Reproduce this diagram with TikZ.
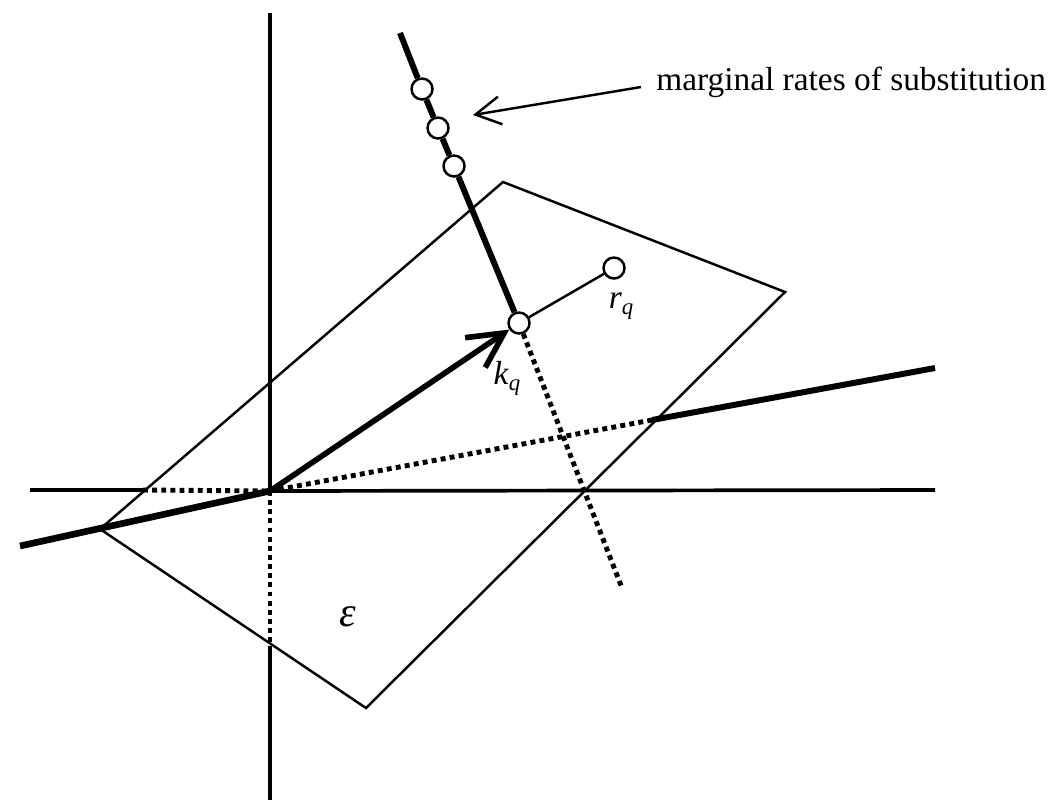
\documentclass[tikz,border=0pt]{standalone}
\usepackage{fontspec}
\setmainfont{Liberation Serif}
\usetikzlibrary{arrows.meta}
\begin{document}
\begin{tikzpicture}[x=0.02cm,y=-0.02cm,
  axis/.style={line width=2.1pt},
  edge/.style={line width=1.4pt, line join=miter},
  heavy/.style={line width=3.4pt},
  dots/.style={line width=2.8pt, dash pattern=on 2.8pt off 2.4pt},
  dot/.style={circle, draw, fill=white, line width=1.4pt, inner sep=0pt, minimum size=0.42cm},
  lbl/.style={inner sep=0pt, font=\fontsize{19}{22}\selectfont}
]
\useasboundingbox (0,0) rectangle (1053,805);
% key points
\coordinate (O) at (270,491);
\coordinate (xl) at (30,490);
\coordinate (xe) at (143,490);
\coordinate (xr) at (935,490);
\coordinate (yt) at (270,13);
\coordinate (ye) at (270,647);
\coordinate (yb) at (270,800);
\coordinate (pL) at (100,529);
\coordinate (pT) at (503,182);
\coordinate (pR) at (785,292);
\coordinate (pB) at (366,708);
\coordinate (hl) at (20,546);
\coordinate (hm) at (652,420);
\coordinate (hr) at (935,368);
\coordinate (mt) at (400,33);
\coordinate (dq) at (622,588);
% parallelogram
\draw[edge] (pL) -- (pT) -- (pR) -- (pB) -- cycle;
% axes
\draw[axis] (xl) -- (xe);
\draw[dots] (xe) -- (O);
\draw[axis] (O) -- (xr);
\draw[axis] (yt) -- (O);
\draw[dots] (O) -- (ye);
\draw[axis] (ye) -- (yb);
% oblique line
\draw[heavy, line width=3.8pt] (hl) -- (O);
\draw[dots] (O) -- (hm);
\draw[heavy] (hm) -- (hr);
% circles
\node[dot] (k) at (519,323) {};
\node[dot] (r) at (614,268) {};
\node[dot] (m1) at (422,89) {};
\node[dot] (m2) at (438,128) {};
\node[dot] (m3) at (454,166) {};
% lines through circles
\draw[heavy] (mt) -- (m1) -- (m2) -- (m3) -- (k);
\draw[edge] (k) -- (r);
\draw[dots] (k) -- (dq);
\draw[heavy, line width=3.2pt, -{Straight Barb[length=0.7cm, width=0.72cm]}] (O) -- (k);
% labels
\node[lbl] (rl) at (621,306) {\textit{r}\raisebox{-0.4ex}{\fontsize{13}{15}\selectfont\textit{q}}};
\node[lbl] (kl) at (507,378) {\textit{k}\raisebox{-0.4ex}{\fontsize{13}{15}\selectfont\textit{q}}};
\node[inner sep=0pt, font=\fontsize{24}{27}\selectfont\itshape] (eps) at (348,617) {ε};
\node[lbl, anchor=base west] (mrs) at (656,90) {marginal rates of substitution};
\coordinate (at) at (641,87);
\coordinate (ah) at (473,115);
\draw[edge, -{Straight Barb[length=0.5cm, width=0.56cm]}] (at) -- (ah);
\end{tikzpicture}
\end{document}
